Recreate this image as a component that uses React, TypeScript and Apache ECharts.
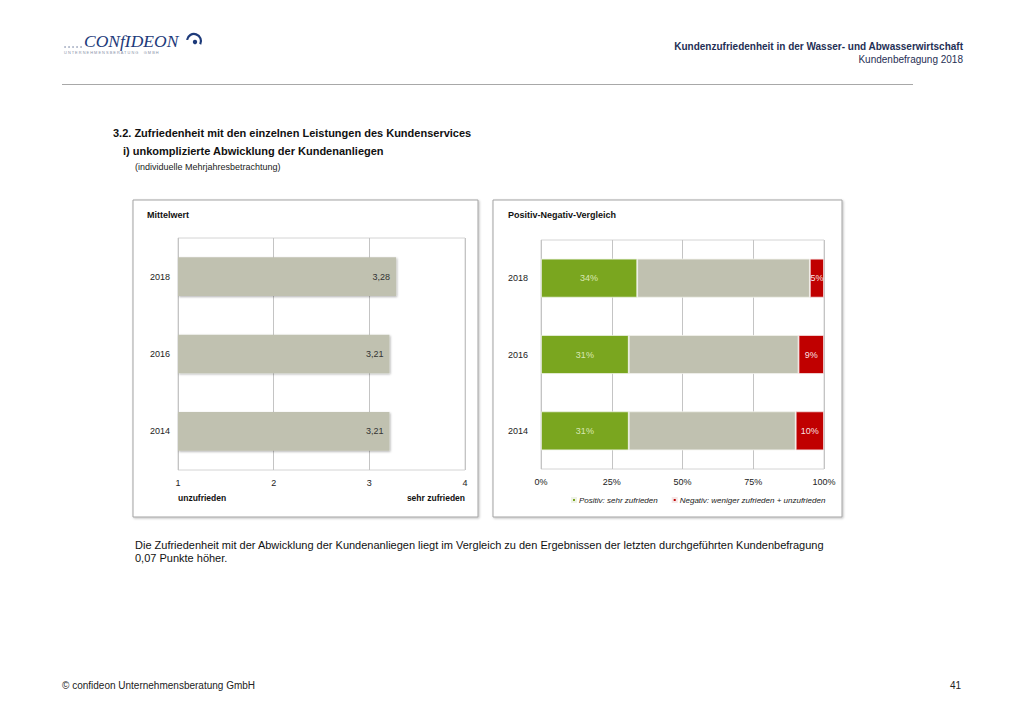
import React, { useEffect, useRef } from "react";
import * as echarts from "echarts";

const years = ["2018", "2016", "2014"];
const meanValues = [3.28, 3.21, 3.21];
const meanTicks = ["1", "2", "3", "4"];
const positiveShare = [34, 31, 31];
const neutralShare = [61, 60, 59];
const negativeShare = [5, 9, 10];
const positiveName = "Positiv: sehr zufrieden";
const negativeName = "Negativ: weniger zufrieden + unzufrieden";

const FONT = "Liberation Sans, Arial, sans-serif";
const BAR_GRAY = "#c0c1b0";
const GREEN = "#7aa61f";
const RED = "#c00000";
const LOGO = "#1d3a7a";

export default function App() {
  const ref = useRef<HTMLDivElement>(null);

  useEffect(() => {
    if (!ref.current) return;
    const chart = echarts.init(ref.current, undefined, { renderer: "svg" });

    const panel = (x: number, y: number, w: number, h: number) => ({
      type: "rect",
      shape: { x, y, width: w, height: h },
      style: {
        fill: "#fff",
        stroke: "#a3a3a3",
        lineWidth: 1,
        shadowBlur: 2,
        shadowOffsetX: 1,
        shadowOffsetY: 1,
        shadowColor: "rgba(0,0,0,0.25)",
      },
      z: -10,
      silent: true,
    });

    const txt = (
      x: number,
      y: number,
      text: string,
      size: number,
      opts: any = {}
    ) => ({
      type: "text",
      x,
      y,
      silent: true,
      style: {
        text,
        fontSize: size,
        fontFamily: FONT,
        fill: opts.fill || "#111",
        fontWeight: opts.bold ? "bold" : "normal",
        fontStyle: opts.italic ? "italic" : "normal",
        textAlign: opts.align || "left",
        textVerticalAlign: "middle",
      },
    });

    const dots = [65, 69, 73, 77, 81].map((cx) => ({
      type: "circle",
      silent: true,
      shape: { cx, cy: 47, r: 0.7 },
      style: { fill: "#5a6a90" },
    }));

    const option: any = {
      animation: false,
      backgroundColor: "#fff",
      textStyle: { fontFamily: FONT },
      legend: {
        data: [positiveName, negativeName],
        left: 566,
        top: 491,
        icon: "rect",
        itemWidth: 4,
        itemHeight: 4,
        itemGap: 14,
        textStyle: {
          fontFamily: FONT,
          fontSize: 8,
          fontStyle: "italic",
          color: "#222",
          padding: [0, 0, 0, -2],
        },
        selectedMode: false,
      },
      grid: [
        { left: 178, top: 238, width: 287, height: 232, show: true, borderColor: "#d4d4d4", borderWidth: 1 },
        { left: 541, top: 240, width: 283, height: 229, show: true, borderColor: "#d4d4d4", borderWidth: 1 },
      ],
      xAxis: [
        {
          gridIndex: 0,
          type: "value",
          min: 1,
          max: 4,
          interval: 1,
          axisLine: { show: false },
          axisTick: { show: false },
          splitLine: { lineStyle: { color: "#c4c4c4" } },
          axisLabel: {
            fontSize: 9,
            color: "#222",
            margin: 8,
            formatter: (v: number) => meanTicks[Math.round(v) - 1] ?? String(v),
          },
        },
        {
          gridIndex: 1,
          type: "value",
          min: 0,
          max: 100,
          interval: 25,
          axisLine: { show: false },
          axisTick: { show: false },
          splitLine: { lineStyle: { color: "#c4c4c4" } },
          axisLabel: { fontSize: 9, color: "#222", margin: 8, formatter: "{value}%" },
        },
      ],
      yAxis: [
        {
          gridIndex: 0,
          type: "category",
          data: years,
          inverse: true,
          axisLine: { show: false },
          axisTick: { show: false },
          axisLabel: { fontSize: 9, color: "#222", margin: 8 },
        },
        {
          gridIndex: 1,
          type: "category",
          data: years,
          inverse: true,
          axisLine: { show: false },
          axisTick: { show: false },
          axisLabel: { fontSize: 9, color: "#222", margin: 13 },
        },
      ],
      series: [
        {
          name: "Mittelwert",
          type: "bar",
          xAxisIndex: 0,
          yAxisIndex: 0,
          data: meanValues,
          barWidth: "50%",
          clip: true,
          itemStyle: {
            color: BAR_GRAY,
            shadowBlur: 2,
            shadowOffsetX: 1,
            shadowOffsetY: 1,
            shadowColor: "rgba(0,0,0,0.3)",
          },
          label: {
            show: true,
            position: "insideRight",
            distance: 6,
            fontSize: 9,
            color: "#333",
            formatter: (p: any) => p.value.toFixed(2).replace(".", ","),
          },
        },
        {
          name: positiveName,
          type: "bar",
          stack: "pn",
          xAxisIndex: 1,
          yAxisIndex: 1,
          data: positiveShare,
          barWidth: "51%",
          itemStyle: { color: GREEN, borderColor: "#eef2e6", borderWidth: 0.8 },
          label: {
            show: true,
            position: "inside",
            fontSize: 9,
            color: "rgba(240,250,220,0.8)",
            formatter: "{c}%",
          },
        },
        {
          name: "Neutral",
          type: "bar",
          stack: "pn",
          xAxisIndex: 1,
          yAxisIndex: 1,
          data: neutralShare,
          itemStyle: { color: BAR_GRAY, borderColor: "#f2f2ee", borderWidth: 0.8 },
        },
        {
          name: negativeName,
          type: "bar",
          stack: "pn",
          xAxisIndex: 1,
          yAxisIndex: 1,
          data: negativeShare,
          itemStyle: { color: RED, borderColor: "#f5e6e6", borderWidth: 0.8 },
          label: {
            show: true,
            position: "inside",
            fontSize: 9,
            color: "rgba(255,255,255,0.9)",
            formatter: "{c}%",
          },
        },
      ],
      graphic: [
        // logo
        {
          type: "text",
          x: 84,
          y: 41,
          silent: true,
          style: {
            text: "CONfIDEON",
            fontSize: 17.5,
            fontFamily: "Liberation Serif, serif",
            fontStyle: "italic",
            fill: LOGO,
            textVerticalAlign: "middle",
          },
        },
        {
          type: "arc",
          silent: true,
          shape: { cx: 194, cy: 41, r: 7, startAngle: Math.PI * 1.05, endAngle: Math.PI * 2.15 },
          style: { stroke: LOGO, lineWidth: 2.2, fill: "none" },
        },
        {
          type: "circle",
          silent: true,
          shape: { cx: 195, cy: 42, r: 2.2 },
          style: { fill: LOGO },
        },
        ...dots,
        txt(64, 52.5, "U N T E R N E H M E N S B E R A T U N G     G M B H", 3.9, { fill: "#8a93a8" }),
        // header right
        txt(963, 46, "Kundenzufriedenheit in der Wasser- und Abwasserwirtschaft", 10, {
          bold: true,
          align: "right",
          fill: "#1f2f55",
        }),
        txt(963, 59, "Kundenbefragung 2018", 10, { align: "right", fill: "#1f2f55" }),
        {
          type: "line",
          silent: true,
          shape: { x1: 62, y1: 84.5, x2: 913, y2: 84.5 },
          style: { stroke: "#a8a8a8", lineWidth: 1 },
        },
        // titles
        txt(113, 133, "3.2. Zufriedenheit mit den einzelnen Leistungen des Kundenservices", 11, { bold: true }),
        txt(123, 151, "i) unkomplizierte Abwicklung der Kundenanliegen", 11, { bold: true }),
        txt(135, 167, "(individuelle Mehrjahresbetrachtung)", 9, { fill: "#222" }),
        // panels
        panel(133, 200, 345, 317),
        panel(493, 200, 349, 317),
        txt(147, 215, "Mittelwert", 9, { bold: true }),
        txt(508, 215, "Positiv-Negativ-Vergleich", 9, { bold: true }),
        txt(178, 498, "unzufrieden", 8.5, { bold: true }),
        txt(465, 498, "sehr zufrieden", 8.5, { bold: true, align: "right" }),
        // body text
        txt(
          135,
          545,
          "Die Zufriedenheit mit der Abwicklung der Kundenanliegen liegt im Vergleich zu den Ergebnissen der letzten durchgeführten Kundenbefragung",
          11
        ),
        txt(135, 558, "0,07 Punkte höher.", 11),
        // footer
        txt(62, 685, "© confideon Unternehmensberatung GmbH", 10, { fill: "#222" }),
        txt(961, 685, "41", 10, { fill: "#222", align: "right" }),
      ],
    };

    chart.setOption(option);
    return () => chart.dispose();
  }, []);

  return (
    <div
      ref={ref}
      style={{ position: "fixed", left: 0, top: 0, width: 1024, height: 719, background: "#fff" }}
    />
  );
}
